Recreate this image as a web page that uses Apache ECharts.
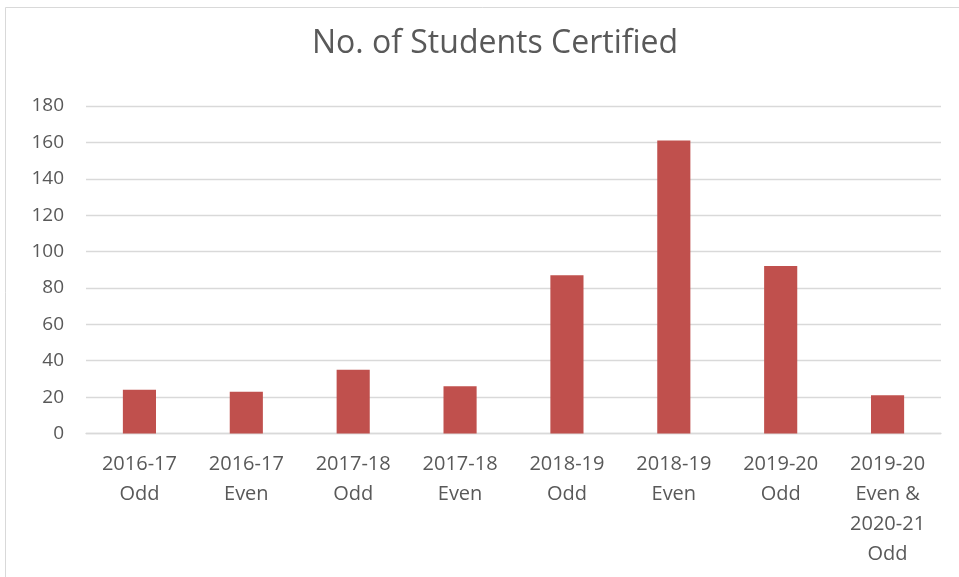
<!DOCTYPE html>
<html>
<head>
<meta charset="utf-8">
<script src="https://cdn.jsdelivr.net/npm/echarts@6/dist/echarts.min.js"></script>
<style>
  html, body { margin: 0; padding: 0; background: #fff; }
  #chart { width: 959px; height: 577px; }
</style>
</head>
<body>
<div id="chart"></div>
<script>
// data
var categories = ['2016-17\nOdd', '2016-17\nEven', '2017-18\nOdd', '2017-18\nEven',
  '2018-19\nOdd', '2018-19\nEven', '2019-20\nOdd', '2019-20\nEven &\n2020-21\nOdd'];
var students = [24, 23, 35, 26, 87, 161, 92, 21];
var yTicks = { min: 0, max: 180, interval: 20 };

var chart = echarts.init(document.getElementById('chart'));
var textColor = '#595959';
var font = 'Open Sans';

var option = {
  backgroundColor: '#fff',
  animation: false,
  graphic: [{
    type: 'rect',
    shape: { x: 5.5, y: 7.5, width: 1000, height: 700 },
    style: { fill: 'none', stroke: '#d9d9d9', lineWidth: 1 },
    silent: true
  }],
  title: {
    text: 'No. of Students Certified',
    left: 490,
    textAlign: 'center',
    top: 23,
    textStyle: { color: textColor, fontFamily: font, fontSize: 32, fontWeight: 'normal' }
  },
  grid: { left: 86, right: 18, top: 106, bottom: 143.5 },
  xAxis: {
    type: 'category',
    data: categories,
    axisLine: { lineStyle: { color: '#d9d9d9', width: 1.3 } },
    axisTick: { show: false },
    axisLabel: {
      color: textColor, fontFamily: font, fontSize: 20,
      lineHeight: 30, margin: 16, interval: 0
    }
  },
  yAxis: {
    type: 'value',
    min: yTicks.min,
    max: yTicks.max,
    interval: yTicks.interval,
    axisLine: { show: false },
    axisTick: { show: false },
    splitLine: { lineStyle: { color: '#d9d9d9', width: 1.3 } },
    axisLabel: { color: textColor, fontFamily: font, fontSize: 19, margin: 22 }
  },
  series: [{
    type: 'bar',
    data: students,
    barWidth: '31%',
    itemStyle: { color: '#c0504d' }
  }]
};
chart.setOption(option);
</script>
</body>
</html>
